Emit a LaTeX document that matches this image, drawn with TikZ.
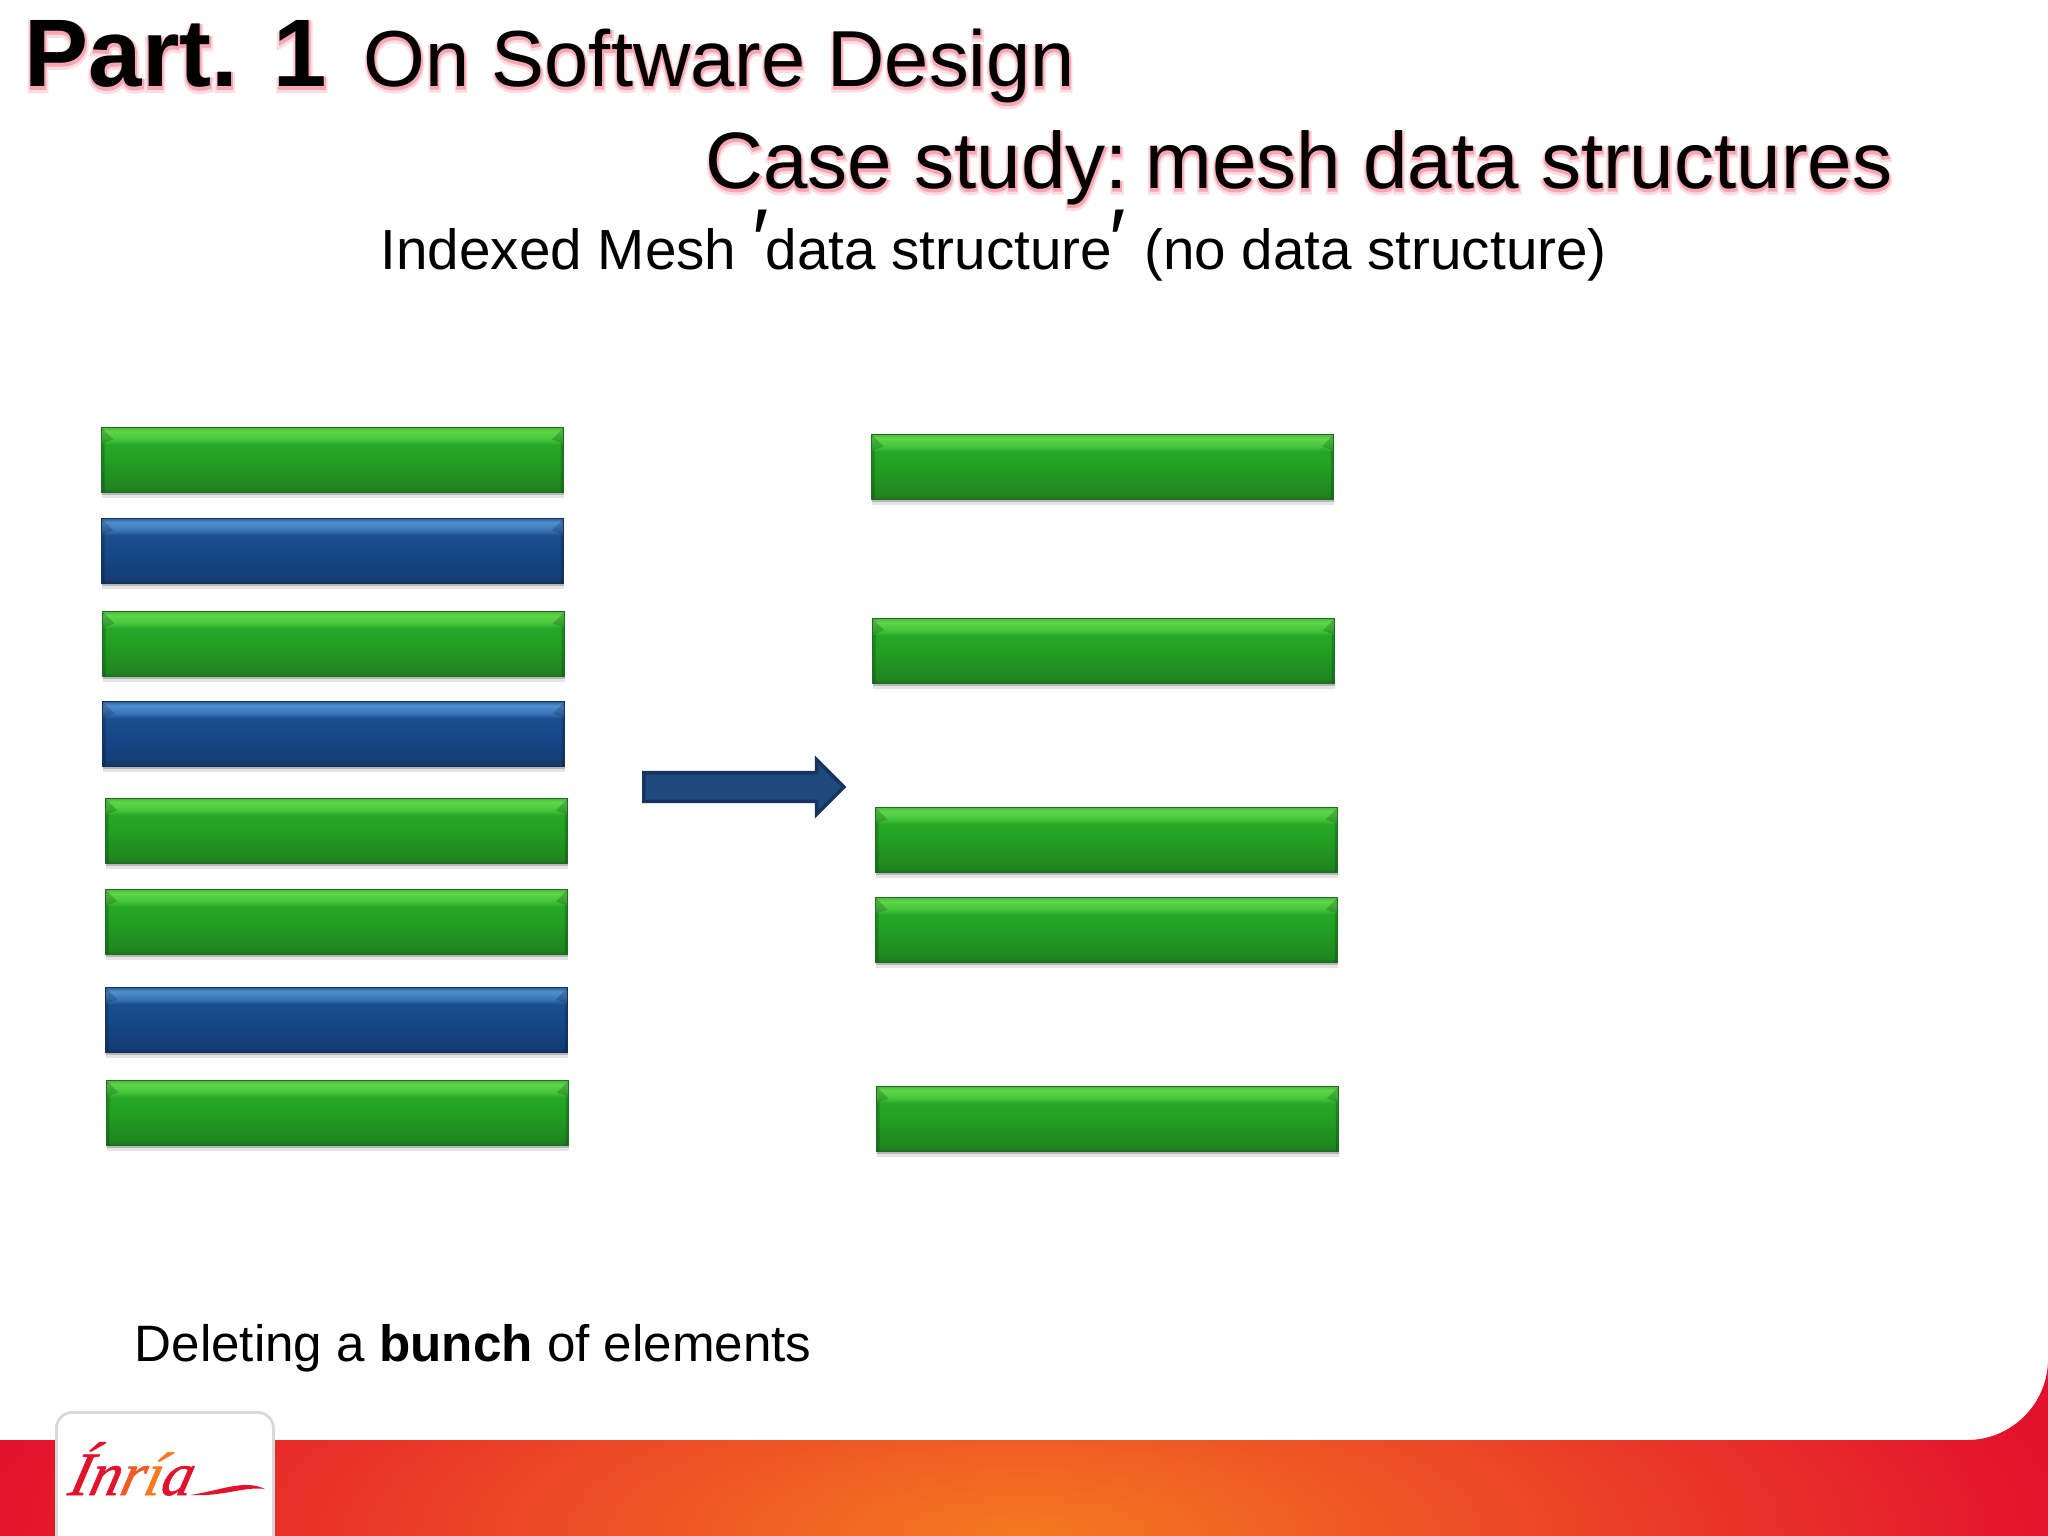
\documentclass[tikz,border=0pt]{standalone}
\usepackage{fontspec}
\setmainfont{Liberation Sans}
\newfontface\glowreg[FakeBold=7]{Liberation Sans}
\newfontface\glowbf[FakeBold=7]{Liberation Sans Bold}
\newfontface\coreglowreg[FakeBold=3]{Liberation Sans}
\newfontface\coreglowbf[FakeBold=3]{Liberation Sans Bold}
\newfontface\logofont[FakeBold=1]{Liberation Serif Italic}
\usetikzlibrary{shapes.arrows,shadows}
\definecolor{titleglow}{HTML}{FCDDE1}
\definecolor{titlecore}{HTML}{F9A5B2}
\definecolor{greenedge}{HTML}{1C6E20}
\definecolor{greenlow}{HTML}{1F841F}
\definecolor{greenmid}{HTML}{22A022}
\definecolor{greenface}{HTML}{25A725}
\definecolor{greenbevel}{HTML}{45C43A}
\definecolor{greenlight}{HTML}{5CD848}
\definecolor{greentop}{HTML}{4FB83C}
\definecolor{blueedge}{HTML}{16305C}
\definecolor{bluelow}{HTML}{143C72}
\definecolor{bluemid}{HTML}{15498A}
\definecolor{blueface}{HTML}{1A4F8F}
\definecolor{bluebevel}{HTML}{3A74B5}
\definecolor{bluelight}{HTML}{4F8FD0}
\definecolor{bluetop}{HTML}{2F62A0}
\definecolor{arrowfill}{HTML}{1F4A7D}
\definecolor{arrowedge}{HTML}{17345F}
\definecolor{bandred}{HTML}{E3122C}
\definecolor{bandorange}{HTML}{F47A20}
\pgfdeclareverticalshading{greenshade}{100bp}{color(0bp)=(greenedge); color(25bp)=(greenedge);
  color(28bp)=(greenlow); color(50bp)=(greenmid); color(62bp)=(greenface);
  color(66bp)=(greenbevel); color(72bp)=(greenlight); color(75bp)=(greentop); color(100bp)=(greentop)}
\pgfdeclareverticalshading{blueshade}{100bp}{color(0bp)=(blueedge); color(25bp)=(blueedge);
  color(28bp)=(bluelow); color(50bp)=(bluemid); color(62bp)=(blueface);
  color(66bp)=(bluebevel); color(72bp)=(bluelight); color(75bp)=(bluetop); color(100bp)=(bluetop)}
\newcommand{\glowtext}[3]{\rlap{\raisebox{-1.1pt}{#1\textcolor{titleglow}{#3}}}\rlap{\raisebox{-0.7pt}{#2\textcolor{titlecore}{#3}}}#3}
\newcommand{\primemark}{{\fontsize{25}{25}\selectfont\raisebox{-0.4pt}{\char"2032}}}
\begin{document}
\begin{tikzpicture}[x=0.01cm,y=-0.01cm]
  \tikzstyle{mesh bar}=[minimum width=4.62cm,minimum height=0.65cm,inner sep=0pt,anchor=north west,
    drop shadow={shadow xshift=0pt,shadow yshift=-0.05cm,opacity=0.1,fill=black},
    drop shadow={shadow xshift=0pt,shadow yshift=-0.025cm,opacity=0.2,fill=black},
    path picture={
      \fill[black,opacity=0.18] (path picture bounding box.north west) -- ++(0.12cm,-0.12cm) -- ++(-0.09cm,-0.03cm)
        -- ++(0,-0.5cm) -- ++(-0.03cm,0) -- cycle;
      \fill[black,opacity=0.18] (path picture bounding box.north east) -- ++(-0.12cm,-0.12cm) -- ++(0.09cm,-0.03cm)
        -- ++(0,-0.5cm) -- ++(0.03cm,0) -- cycle;
    }]
  \tikzstyle{green bar}=[mesh bar,shading=greenshade,draw=greenedge,line width=0.3pt]
  \tikzstyle{blue bar}=[mesh bar,shading=blueshade,draw=blueedge,line width=0.3pt]
  \tikzstyle{title}=[inner sep=0pt,anchor=base west]

  \useasboundingbox[fill=white] (0,0) rectangle (2048,1536);

  % title
  \node[title,font=\fontsize{27.3}{34}\selectfont\bfseries] (part) at (24,86) {\glowtext{\glowbf}{\coreglowbf}{Part. 1}};
  \node[title,font=\fontsize{22.6}{28}\selectfont] (design) at (363,86) {\glowtext{\glowreg}{\coreglowreg}{On Software Design}};
  \node[title,font=\fontsize{22.75}{28}\selectfont] (study) at (705,188) {\glowtext{\glowreg}{\coreglowreg}{Case study:\kern-1.4pt\ mesh data structures}};
  \node[title,font=\fontsize{16.1}{20}\selectfont] (indexed) at (380,269) {Indexed Mesh \primemark\kern-0.8pt data structure\kern-0.6pt\primemark\kern0.6pt\ (no data structure)};

  % before
  \node[green bar] (L1) at (101,427) {};
  \node[blue bar]  (L2) at (101,518) {};
  \node[green bar] (L3) at (102,611) {};
  \node[blue bar]  (L4) at (102,701) {};
  \node[green bar] (L5) at (105,798) {};
  \node[green bar] (L6) at (105,889) {};
  \node[blue bar]  (L7) at (105,987) {};
  \node[green bar] (L8) at (106,1080) {};

  % after
  \node[green bar] (R1) at (871,434) {};
  \node[green bar] (R2) at (872,618) {};
  \node[green bar] (R3) at (875,807) {};
  \node[green bar] (R4) at (875,897) {};
  \node[green bar] (R5) at (876,1086) {};

  \node[single arrow,draw=arrowedge,fill=arrowfill,line width=1pt,inner xsep=0pt,inner ysep=0.125cm,anchor=west,
    minimum height=2.0cm,minimum width=0pt,single arrow head extend=0.13cm,
    single arrow head indent=0pt,single arrow tip angle=90] (arrow) at (642,787) {};

  \node[title,font=\fontsize{14.55}{18}\selectfont] (caption) at (134,1361) {Deleting a \textbf{bunch} of elements};

  % footer
  \begin{scope}
    \clip (0,1440) -- (1967,1440) arc[start angle=270,end angle=360,radius=0.81cm] -- (2048,1536) -- (0,1536) -- cycle;
    \shade[inner color=bandorange,outer color=bandred] (-20,1196) rectangle (2068,1876);
  \end{scope}
  \begin{scope}
    \clip (0,1380) rectangle (2048,1536);
    \node[draw=black!15,fill=white,rounded corners=0.16cm,line width=0.8pt,minimum width=2.17cm,minimum height=1.6cm,
      inner sep=0pt,anchor=north west] (tab) at (55,1411) {};
  \end{scope}
  \node[inner sep=0pt,anchor=base west,xslant=0.25,font=\fontsize{17.5}{20}\selectfont\logofont] (logo) at (66,1495)
    {\textcolor{bandred}{Ín}\textcolor{bandorange!70!bandred}{r}\textcolor{bandorange}{í}\textcolor{bandred}{a}};
  \fill[bandred] (logo.base east) .. controls (222,1490) and (245,1479) .. (265,1489)
    .. controls (245,1486) and (222,1497) .. (logo.base east) -- cycle;
\end{tikzpicture}
\end{document}
